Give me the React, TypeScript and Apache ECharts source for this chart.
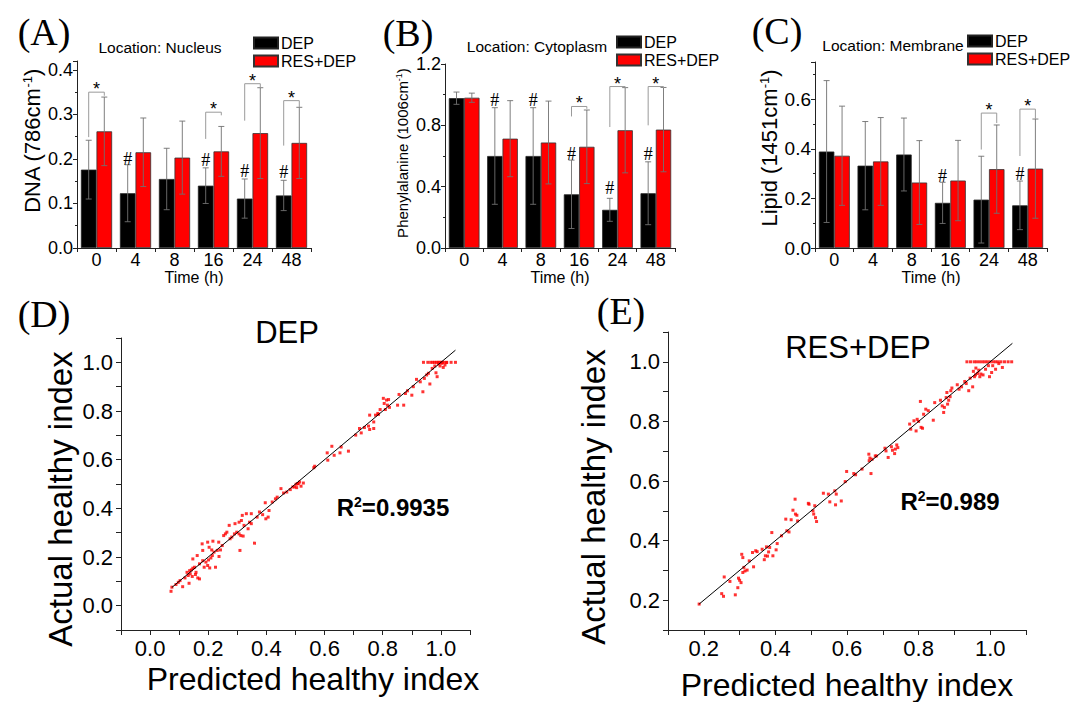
import React, { useEffect, useRef } from "react";
import * as echarts from "echarts";

const SANS = '"Liberation Sans", Arial, Helvetica, sans-serif';
const SERIF = '"Liberation Serif", "Times New Roman", serif';

// ---------- shared categories ----------
const timeCats = ["0", "4", "8", "16", "24", "48"];
const seriesNames = ["DEP", "RES+DEP"];

// ---------- (A) DNA, nucleus ----------
const dnaDep = [0.176, 0.123, 0.155, 0.14, 0.111, 0.118];
const dnaDepSD = [0.066, 0.064, 0.069, 0.04, 0.044, 0.034];
const dnaRes = [0.262, 0.215, 0.203, 0.217, 0.258, 0.236];
const dnaResSD = [0.077, 0.077, 0.082, 0.056, 0.102, 0.08];
// [category index, left leg bottom, bracket top, right leg bottom]
const dnaBrackets = [
  [0, 0.249, 0.35, 0.342],
  [3, 0.245, 0.305, 0.298],
  [4, 0.286, 0.369, 0.36],
  [5, 0.23, 0.331, 0.316],
];
const dnaHash = [
  [1, 0.2],
  [3, 0.198],
  [4, 0.173],
  [5, 0.17],
];

// ---------- (B) Phenylalanine, cytoplasm ----------
const pheDep = [0.977, 0.6, 0.6, 0.35, 0.249, 0.357];
const pheDepSD = [0.04, 0.315, 0.315, 0.223, 0.075, 0.205];
const pheRes = [0.98, 0.713, 0.688, 0.66, 0.768, 0.772];
const pheResSD = [0.03, 0.248, 0.27, 0.24, 0.278, 0.275];
const pheBrackets = [
  [3, 0.858, 0.923, 0.908],
  [4, 0.789, 1.053, 1.044],
  [5, 0.8, 1.053, 1.044],
];
const pheHash = [
  [1, 0.962],
  [2, 0.962],
  [3, 0.612],
  [4, 0.389],
  [5, 0.612],
];

// ---------- (C) Lipid, membrane ----------
const lipDep = [0.389, 0.332, 0.377, 0.182, 0.195, 0.172];
const lipDepSD = [0.286, 0.178, 0.147, 0.083, 0.175, 0.098];
const lipRes = [0.372, 0.349, 0.264, 0.272, 0.318, 0.32];
const lipResSD = [0.2, 0.177, 0.169, 0.162, 0.178, 0.2];
const lipBrackets = [
  [4, 0.397, 0.544, 0.504],
  [5, 0.371, 0.56, 0.521],
];
const lipHash = [
  [3, 0.291],
  [5, 0.297],
];

// ---------- (D) DEP: predicted vs actual ----------
const depPoints = [
  [0.072, 0.059], [0.075, 0.076], [0.089, 0.087], [0.112, 0.078], [0.097, 0.096], [0.103, 0.103],
  [0.12, 0.114], [0.131, 0.124], [0.134, 0.092], [0.127, 0.137], [0.136, 0.144], [0.142, 0.147],
  [0.147, 0.154], [0.153, 0.158], [0.138, 0.131], [0.145, 0.12], [0.156, 0.128], [0.164, 0.114],
  [0.158, 0.137], [0.17, 0.11], [0.147, 0.192], [0.162, 0.206], [0.17, 0.172], [0.181, 0.185],
  [0.186, 0.158], [0.198, 0.165], [0.205, 0.155], [0.192, 0.179], [0.201, 0.188], [0.209, 0.196],
  [0.214, 0.206], [0.22, 0.22], [0.212, 0.229], [0.203, 0.24], [0.225, 0.158], [0.237, 0.202],
  [0.231, 0.227], [0.242, 0.229], [0.248, 0.247], [0.181, 0.227], [0.179, 0.254], [0.198, 0.261],
  [0.216, 0.265], [0.236, 0.261], [0.253, 0.288], [0.259, 0.295], [0.264, 0.302], [0.275, 0.275],
  [0.281, 0.282], [0.29, 0.295], [0.298, 0.302], [0.306, 0.295], [0.312, 0.288], [0.32, 0.286],
  [0.309, 0.227], [0.272, 0.33], [0.292, 0.337], [0.306, 0.343], [0.314, 0.35], [0.323, 0.33],
  [0.337, 0.316], [0.348, 0.337], [0.317, 0.371], [0.331, 0.378], [0.348, 0.378], [0.342, 0.343],
  [0.359, 0.257], [0.368, 0.364], [0.376, 0.385], [0.387, 0.374], [0.398, 0.357], [0.406, 0.364],
  [0.409, 0.391], [0.396, 0.423], [0.42, 0.426], [0.431, 0.439], [0.437, 0.446], [0.45, 0.481],
  [0.459, 0.463], [0.47, 0.467], [0.482, 0.477], [0.491, 0.488], [0.504, 0.485], [0.509, 0.501],
  [0.502, 0.499], [0.497, 0.488], [0.508, 0.502], [0.514, 0.508], [0.519, 0.491], [0.527, 0.504],
  [0.563, 0.567], [0.566, 0.573], [0.611, 0.598], [0.609, 0.628], [0.625, 0.655], [0.633, 0.618],
  [0.653, 0.628], [0.657, 0.652], [0.682, 0.635], [0.707, 0.701], [0.72, 0.728], [0.726, 0.71],
  [0.737, 0.732], [0.751, 0.738], [0.755, 0.724], [0.769, 0.728], [0.755, 0.783], [0.769, 0.755],
  [0.775, 0.783], [0.783, 0.79], [0.791, 0.806], [0.785, 0.786], [0.802, 0.852], [0.805, 0.831],
  [0.813, 0.845], [0.82, 0.847], [0.816, 0.824], [0.823, 0.815], [0.809, 0.806], [0.851, 0.824],
  [0.856, 0.868], [0.872, 0.824], [0.878, 0.872], [0.885, 0.883], [0.9, 0.865], [0.905, 0.9],
  [0.916, 0.93], [0.929, 0.92], [0.938, 0.879], [0.943, 0.934], [0.951, 0.948], [0.957, 0.955],
  [0.962, 0.911], [0.97, 0.975], [0.979, 0.985], [0.983, 0.957], [0.987, 0.941], [0.992, 0.993],
  [0.997, 0.985], [1.003, 0.996], [1.008, 0.979], [1.014, 0.989], [1.019, 0.999],
  [0.94, 1], [0.955, 1], [0.965, 1], [0.972, 1], [0.978, 1], [0.985, 1], [0.99, 1], [0.995, 1],
  [1.0, 1], [1.005, 1], [1.01, 1], [1.02, 1], [1.035, 1], [1.05, 1],
];
const depFit = [[0.075, 0.075], [1.05, 1.05]];

// ---------- (E) RES+DEP: predicted vs actual ----------
const resPoints = [
  [0.187, 0.187], [0.25, 0.222], [0.255, 0.213], [0.288, 0.218], [0.257, 0.278], [0.273, 0.263],
  [0.295, 0.242], [0.297, 0.274], [0.3, 0.267], [0.304, 0.259], [0.309, 0.293], [0.312, 0.31],
  [0.315, 0.298], [0.321, 0.301], [0.306, 0.354], [0.309, 0.343], [0.327, 0.332], [0.336, 0.36],
  [0.339, 0.312], [0.345, 0.366], [0.349, 0.363], [0.363, 0.371], [0.369, 0.336], [0.372, 0.349],
  [0.375, 0.379], [0.378, 0.348], [0.384, 0.377], [0.381, 0.362], [0.39, 0.427], [0.393, 0.349],
  [0.402, 0.369], [0.405, 0.39], [0.417, 0.416], [0.432, 0.433], [0.438, 0.429], [0.429, 0.472],
  [0.444, 0.47], [0.449, 0.502], [0.455, 0.539], [0.456, 0.489], [0.46, 0.485], [0.462, 0.466],
  [0.492, 0.525], [0.494, 0.522], [0.505, 0.5], [0.507, 0.489], [0.51, 0.517], [0.512, 0.477],
  [0.515, 0.464], [0.534, 0.559], [0.548, 0.556], [0.552, 0.53], [0.566, 0.567], [0.568, 0.52],
  [0.57, 0.556], [0.584, 0.533], [0.595, 0.598], [0.599, 0.632], [0.619, 0.625], [0.624, 0.621],
  [0.642, 0.64], [0.661, 0.69], [0.662, 0.668], [0.664, 0.677], [0.67, 0.673], [0.679, 0.684],
  [0.682, 0.684], [0.667, 0.625], [0.706, 0.71], [0.709, 0.701], [0.715, 0.679], [0.724, 0.715],
  [0.727, 0.703], [0.735, 0.707], [0.733, 0.692], [0.739, 0.721], [0.742, 0.712], [0.778, 0.774],
  [0.775, 0.791], [0.787, 0.802], [0.796, 0.807], [0.8, 0.8], [0.793, 0.768], [0.807, 0.78],
  [0.811, 0.777], [0.814, 0.824], [0.805, 0.867], [0.82, 0.841], [0.827, 0.836], [0.841, 0.804],
  [0.845, 0.863], [0.861, 0.871], [0.866, 0.852], [0.87, 0.83], [0.872, 0.847], [0.877, 0.88],
  [0.879, 0.897], [0.881, 0.858], [0.884, 0.871], [0.888, 0.883], [0.89, 0.903], [0.893, 0.912],
  [0.908, 0.923], [0.913, 0.908], [0.92, 0.916], [0.929, 0.934], [0.933, 0.927], [0.94, 0.903],
  [0.944, 0.945], [0.951, 0.916], [0.953, 0.968], [0.956, 0.95], [0.959, 0.956], [0.96, 0.979],
  [0.965, 0.961], [0.968, 0.972], [0.971, 0.95], [0.974, 0.959], [0.98, 0.956], [0.987, 0.975],
  [0.995, 0.987], [0.998, 0.95], [1.004, 0.964], [1.007, 0.987], [1.015, 0.975], [1.024, 0.994],
  [1.034, 0.981],
  [0.935, 1], [0.945, 1], [0.955, 1], [0.962, 1], [0.97, 1], [0.978, 1], [0.985, 1], [0.992, 1],
  [1.0, 1], [1.008, 1], [1.015, 1], [1.022, 1], [1.03, 1], [1.04, 1], [1.05, 1], [1.06, 1],
];
const resFit = [[0.187, 0.187], [1.062, 1.062]];

// ---------- render helpers ----------
const errRender = (params: any, api: any) => {
  const ci = api.value(0);
  const v = api.value(1);
  const sd = api.value(2);
  const side = api.value(3);
  const band = api.size([1, 0])[0];
  const base = api.coord([ci, v]);
  const cx = base[0] + side * 0.2 * band;
  const yt = api.coord([ci, v + sd])[1];
  const yb = api.coord([ci, v - sd])[1];
  const st = { stroke: "#707070", lineWidth: 0.9 };
  return {
    type: "group",
    children: [
      { type: "line", shape: { x1: cx, y1: yt, x2: cx, y2: yb }, style: st },
      { type: "line", shape: { x1: cx - 3, y1: yt, x2: cx + 3, y2: yt }, style: st },
      { type: "line", shape: { x1: cx - 3, y1: yb, x2: cx + 3, y2: yb }, style: st },
    ],
  };
};

const bracketRender = (params: any, api: any) => {
  const ci = api.value(0);
  const yl = api.value(1);
  const ytop = api.value(2);
  const yr = api.value(3);
  const band = api.size([1, 0])[0];
  const c = api.coord([ci, ytop]);
  const xl = c[0] - 0.2 * band;
  const xr = c[0] + 0.2 * band;
  const pl = api.coord([ci, yl])[1];
  const pr = api.coord([ci, yr])[1];
  return {
    type: "group",
    children: [
      {
        type: "polyline",
        shape: { points: [[xl, pl], [xl, c[1]], [xr, c[1]], [xr, pr]] },
        style: { stroke: "#9a9a9a", lineWidth: 1, fill: null },
      },
      {
        type: "text",
        x: (xl + xr) / 2,
        y: c[1] - 3,
        style: {
          text: "*",
          fontSize: 18,
          fontFamily: SANS,
          fill: "#000",
          align: "center",
          verticalAlign: "middle",
          textAlign: "center",
          textVerticalAlign: "middle",
        },
      },
    ],
  };
};

const hashRender = (params: any, api: any) => {
  const ci = api.value(0);
  const y = api.value(1);
  const band = api.size([1, 0])[0];
  const c = api.coord([ci, y]);
  return {
    type: "text",
    x: c[0] - 0.2 * band,
    y: c[1],
    style: {
      text: "#",
      fontSize: 18,
      fontFamily: SERIF,
      fill: "#000",
      align: "center",
      verticalAlign: "middle",
      textAlign: "center",
      textVerticalAlign: "middle",
    },
  };
};

function barSeries(gi: number, dep: number[], depSD: number[], res: number[], resSD: number[], brackets: number[][], hashes: number[][]) {
  const errData = [
    ...dep.map((v, i) => [i, v, depSD[i], -1]),
    ...res.map((v, i) => [i, v, resSD[i], 1]),
  ];
  return [
    {
      name: seriesNames[0],
      type: "bar",
      xAxisIndex: gi,
      yAxisIndex: gi,
      data: dep,
      barGap: "0%",
      barCategoryGap: "20%",
      itemStyle: { color: "#000000", borderColor: "#222", borderWidth: 0.8 },
      z: 2,
    },
    {
      name: seriesNames[1],
      type: "bar",
      xAxisIndex: gi,
      yAxisIndex: gi,
      data: res,
      barGap: "0%",
      barCategoryGap: "20%",
      itemStyle: { color: "#ff0000", borderColor: "#333", borderWidth: 0.8 },
      z: 2,
    },
    { type: "custom", xAxisIndex: gi, yAxisIndex: gi, data: errData, renderItem: errRender, z: 5, silent: true },
    { type: "custom", xAxisIndex: gi, yAxisIndex: gi, data: brackets, renderItem: bracketRender, z: 6, silent: true },
    { type: "custom", xAxisIndex: gi, yAxisIndex: gi, data: hashes, renderItem: hashRender, z: 6, silent: true },
  ];
}

const axisColor = "#222";

function barX(gi: number) {
  return {
    type: "category",
    gridIndex: gi,
    data: timeCats,
    axisLine: { lineStyle: { color: axisColor, width: 1 } },
    axisTick: { show: true, inside: false, length: 4, lineStyle: { color: axisColor } },
    axisLabel: { fontSize: 18, fontFamily: SANS, color: "#000", margin: 3 },
    name: "Time (h)",
    nameLocation: "middle",
    nameGap: 21,
    nameTextStyle: { fontSize: 16, fontFamily: SANS, color: "#000" },
  };
}

function barY(gi: number, max: number, interval: number, labelSize: number, showMax: boolean) {
  return {
    type: "value",
    gridIndex: gi,
    min: 0,
    max,
    interval,
    splitLine: { show: false },
    axisLine: { show: true, lineStyle: { color: axisColor, width: 1 } },
    axisTick: { show: true, inside: false, length: 4, lineStyle: { color: axisColor } },
    minorTick: { show: true, splitNumber: 2, length: 2, lineStyle: { color: axisColor } },
    minorSplitLine: { show: false },
    axisLabel: {
      fontSize: labelSize,
      fontFamily: SANS,
      color: "#000",
      margin: 4,
      showMaxLabel: showMax,
      formatter: (v: number) => {
        const k = v / interval;
        return Math.abs(k - Math.round(k)) < 1e-6 ? v.toFixed(1) : "";
      },
    },
  };
}

const evenTenth = (v: number) => (Math.round(v * 10) % 2 === 0 ? (Math.abs(v) < 1e-9 ? 0 : v).toFixed(1) : "");

function sAxis(gi: number, min: number, isY: boolean) {
  return {
    type: "value",
    gridIndex: gi,
    min,
    max: 1.1,
    interval: 0.1,
    splitLine: { show: false },
    axisLine: { show: true, onZero: false, lineStyle: { color: axisColor, width: 1 } },
    axisTick: { show: true, inside: false, length: 5, lineStyle: { color: axisColor } },
    axisLabel: { fontSize: 22, fontFamily: SANS, color: "#000", margin: isY ? 8 : 7, formatter: evenTenth },
  };
}

function scatterSeries(gi: number, pts: number[][], fit: number[][]) {
  return [
    {
      type: "scatter",
      xAxisIndex: gi,
      yAxisIndex: gi,
      data: pts,
      symbol: "rect",
      symbolSize: 3,
      itemStyle: { color: "#ff0000" },
      z: 3,
      silent: true,
    },
    {
      type: "line",
      xAxisIndex: gi,
      yAxisIndex: gi,
      data: fit,
      symbol: "none",
      lineStyle: { color: "#000", width: 1 },
      z: 4,
      silent: true,
    },
  ];
}

function legendAt(left: number, top: number) {
  return {
    data: seriesNames,
    orient: "vertical",
    left,
    top,
    padding: 0,
    itemWidth: 24,
    itemHeight: 11,
    itemGap: 2,
    icon: "rect",
    selectedMode: false,
    textStyle: { fontSize: 16, fontFamily: SANS, color: "#000", padding: [0, 0, 0, -2] },
  };
}

function txt(x: number, y: number, text: string, fontSize: number, fontFamily: string, rotation = 0) {
  return {
    type: "text",
    x,
    y,
    rotation,
    style: {
      text,
      fontSize,
      fontFamily,
      fill: "#000",
      align: "center",
      verticalAlign: "middle",
      textAlign: "center",
      textVerticalAlign: "middle",
    },
  };
}

function supText(x: number, y: number, main: string, sup: string, tail: string, fontSize: number, bold: boolean, rotation = 0) {
  const fw = bold ? "bold" : "normal";
  return {
    type: "text",
    x,
    y,
    rotation,
    style: {
      text: "{b|" + main + "}{s|" + sup + "}{b|" + tail + "}",
      fill: "#000",
      align: "center",
      verticalAlign: "middle",
      textAlign: "center",
      textVerticalAlign: "middle",
      rich: {
        b: { fontSize, fontWeight: fw, fontFamily: SANS, fill: "#000", color: "#000" },
        s: { fontSize: Math.round(fontSize * 0.6), fontWeight: fw, fontFamily: SANS, fill: "#000", color: "#000", verticalAlign: "top" },
      },
    },
  };
}

export default function App() {
  const ref = useRef<HTMLDivElement>(null);

  useEffect(() => {
    if (!ref.current) return;
    const chart = echarts.init(ref.current, undefined, { renderer: "svg" });
    const up = Math.PI / 2;

    const option: any = {
      animation: false,
      backgroundColor: "#ffffff",
      grid: [
        { left: 77, top: 61, width: 234, height: 187, outerBoundsMode: "none" },
        { left: 445, top: 64, width: 230, height: 184, outerBoundsMode: "none" },
        { left: 815, top: 62, width: 232, height: 186, outerBoundsMode: "none" },
        { left: 121, top: 338, width: 349, height: 292, outerBoundsMode: "none" },
        { left: 668, top: 332, width: 358, height: 298, outerBoundsMode: "none" },
      ],
      xAxis: [barX(0), barX(1), barX(2), sAxis(3, -0.1, false), sAxis(4, 0.1, false)],
      yAxis: [
        barY(0, 0.42, 0.1, 18, false),
        barY(1, 1.2, 0.4, 18, true),
        barY(2, 0.75, 0.2, 19, false),
        sAxis(3, -0.1, true),
        sAxis(4, 0.1, true),
      ],
      legend: [legendAt(253, 35), legendAt(616, 34), legendAt(967, 33)],
      series: [
        ...barSeries(0, dnaDep, dnaDepSD, dnaRes, dnaResSD, dnaBrackets, dnaHash),
        ...barSeries(1, pheDep, pheDepSD, pheRes, pheResSD, pheBrackets, pheHash),
        ...barSeries(2, lipDep, lipDepSD, lipRes, lipResSD, lipBrackets, lipHash),
        ...scatterSeries(3, depPoints, depFit),
        ...scatterSeries(4, resPoints, resFit),
      ],
      graphic: [
        txt(44, 32, "(A)", 38, SERIF),
        txt(408, 33, "(B)", 38, SERIF),
        txt(777, 31, "(C)", 38, SERIF),
        txt(44, 314, "(D)", 38, SERIF),
        txt(621, 311, "(E)", 38, SERIF),
        txt(160, 47, "Location: Nucleus", 15.5, SANS),
        txt(537, 46, "Location: Cytoplasm", 15.5, SANS),
        txt(893, 45, "Location: Membrane", 15.5, SANS),
        supText(32, 141, "DNA (786cm", "-1", ")", 22, false, up),
        supText(402, 153, "Phenylalanine (1006cm", "-1", ")", 15, false, up),
        supText(769, 148, "Lipid (1451cm", "-1", ")", 22, false, up),
        txt(287, 332, "DEP", 31, SANS),
        txt(858, 347, "RES+DEP", 31, SANS),
        supText(393, 507, "R", "2", "=0.9935", 24, true),
        supText(950, 501, "R", "2", "=0.989", 24, true),
        txt(60, 499, "Actual healthy index", 33, SANS, up),
        txt(593, 497, "Actual healthy index", 33, SANS, up),
        txt(313, 679, "Predicted healthy index", 32, SANS),
        txt(847, 685, "Predicted healthy index", 32, SANS),
      ],
    };

    chart.setOption(option);
    return () => chart.dispose();
  }, []);

  return (
    <div
      ref={ref}
      style={{ position: "fixed", left: 0, top: 0, width: 1078, height: 702, background: "#fff" }}
    />
  );
}
